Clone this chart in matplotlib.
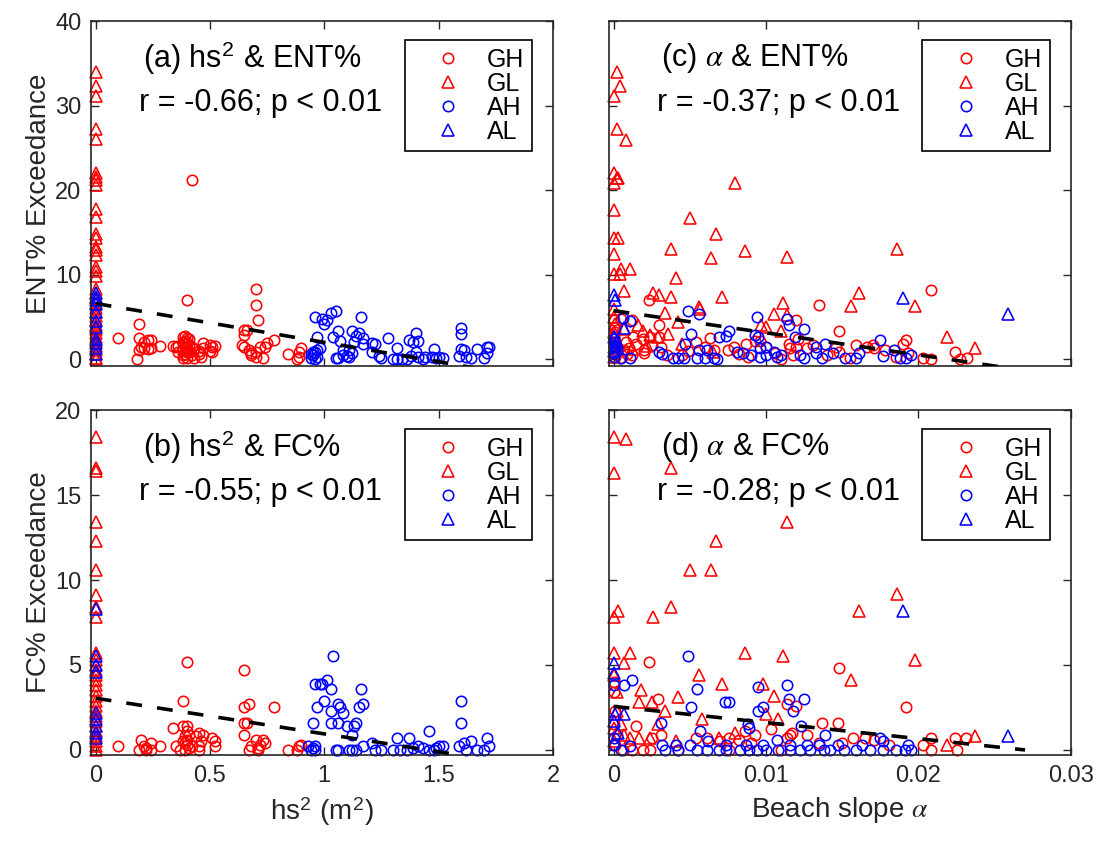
#!/usr/bin/env python3
"""Exceedance vs. wave height squared and beach slope, four-panel scatter."""

import matplotlib

matplotlib.use("Agg")

import matplotlib.pyplot as plt
import numpy as np
from matplotlib.ticker import FormatStrFormatter

plt.rcParams["font.family"] = ["Liberation Sans", "DejaVu Sans"]
plt.rcParams["mathtext.fontset"] = "stix"

GROUPS = ["GH", "GL", "AH", "AL"]
GROUP_MARKERS = {"GH": "o", "GL": "^", "AH": "o", "AL": "^"}
GROUP_SIZES = {"GH": 7.5, "GL": 8.8, "AH": 7.5, "AL": 8.8}
GROUP_COLORS = {"GH": "#ff0000", "GL": "#ff0000", "AH": "#0000ff", "AL": "#0000ff"}
FRAME = "#262626"

# ---- panel (a): hs^2 vs ENT% ----
A_GH = [
    (0.10, 2.5), (0.19, 4.2), (0.19, 2.5), (0.19, 1.1), (0.18, 0.0), (0.20, 1.5), (0.21, 1.3),
    (0.21, 2.0), (0.23, 2.3), (0.23, 1.2), (0.24, 2.3), (0.24, 1.3), (0.28, 1.6),
    (0.34, 1.6), (0.35, 1.5), (0.36, 1.6), (0.36, 0.8), (0.38, 2.6), (0.38, 2.0), (0.38, 1.2),
    (0.38, 0.5), (0.38, 0.2), (0.39, 2.8), (0.39, 2.2), (0.39, 1.8), (0.39, 1.4), (0.39, 1.0),
    (0.39, 0.6), (0.40, 7.0), (0.40, 2.5), (0.40, 1.9), (0.40, 1.3), (0.40, 0.8), (0.40, 0.1),
    (0.41, 2.4), (0.41, 1.7), (0.41, 0.9), (0.42, 21.2), (0.42, 1.5), (0.42, 0.5), (0.43, 1.2),
    (0.43, 0.2), (0.45, 1.0), (0.45, 0.6), (0.46, 0.3), (0.47, 1.9), (0.47, 1.3), (0.50, 1.7),
    (0.50, 1.0), (0.51, 1.5), (0.51, 0.8), (0.52, 1.6),
    (0.65, 3.5), (0.66, 3.5), (0.65, 2.9), (0.64, 1.7), (0.65, 1.5), (0.67, 1.1), (0.68, 0.7),
    (0.68, 0.5), (0.70, 8.3), (0.70, 6.4), (0.71, 4.7), (0.70, 0.9), (0.70, 0.3), (0.73, 0.2),
    (0.74, 1.5), (0.75, 1.9), (0.72, 1.5), (0.78, 2.3), (0.84, 0.6), (0.88, 0.0), (0.89, 0.3),
    (0.89, 0.9), (0.90, 1.3),
]
A_GL = [
    (0, 34.0), (0, 32.3), (0, 31.2), (0, 27.3), (0, 26.1), (0, 22.0), (0, 21.6), (0, 21.2),
    (0, 20.6), (0, 17.8), (0, 16.8), (0, 14.8), (0, 14.4), (0, 13.3), (0, 12.9), (0, 12.3),
    (0, 10.9), (0, 10.5), (0, 9.9), (0, 8.3), (0, 7.8), (0, 7.2), (0, 6.6), (0, 6.1), (0, 5.6),
    (0, 5.1), (0, 4.6), (0, 4.1), (0, 3.6), (0, 3.1), (0, 2.6), (0, 2.1), (0, 1.6), (0, 1.1),
    (0, 0.6), (0, 0.2), (0, 0.0),
]
A_AH = [
    (0.94, 0.2), (0.95, 0.5), (0.96, 0.8), (0.97, 1.1), (0.96, 0.0), (0.95, 0.9), (0.97, 0.3),
    (0.98, 1.3), (0.94, 0.6), (0.96, 5.0), (0.99, 4.8), (1.00, 4.2), (1.01, 4.6), (1.03, 5.5),
    (1.05, 5.7), (0.97, 2.6), (1.04, 2.6), (1.06, 3.3), (1.07, 2.1), (1.08, 1.1), (1.05, 0.1),
    (1.06, 0.1), (1.08, 0.5), (1.11, 1.1), (1.12, 0.7), (1.13, 2.0), (1.12, 3.3), (1.15, 3.1),
    (1.16, 5.0), (1.14, 2.7), (1.17, 2.5), (1.17, 1.8), (1.10, 0.4), (1.11, 0.3),
    (1.21, 1.9), (1.22, 1.8), (1.21, 0.9), (1.24, 0.4), (1.25, 0.1), (1.28, 2.5), (1.30, 0.0),
    (1.32, 0.0), (1.34, 0.0), (1.36, 0.0), (1.32, 1.3), (1.37, 2.3), (1.38, 0.4), (1.39, 2.0),
    (1.40, 3.1), (1.41, 2.1), (1.40, 0.9), (1.41, 0.3), (1.43, 0.0), (1.44, 0.3), (1.47, 0.3),
    (1.48, 1.2), (1.49, 0.1), (1.50, 0.3), (1.52, 0.2), (1.60, 3.7), (1.60, 3.0), (1.59, 0.4),
    (1.60, 1.2), (1.61, 1.1), (1.62, 0.3), (1.64, 0.2), (1.67, 1.2), (1.70, 0.1), (1.71, 1.4),
    (1.72, 1.4), (1.71, 0.7),
]
A_AL = [
    (0, 7.8), (0, 7.4), (0, 7.0), (0, 6.5), (0, 5.6), (0, 4.5), (0, 3.8), (0, 2.4), (0, 1.9),
    (0, 1.3), (0, 0.6),
]

# ---- panel (b): hs^2 vs FC% ----
B_GH = [
    (0.10, 0.2), (0.20, 0.6), (0.19, 0.0), (0.21, 0.2), (0.22, 0.0), (0.24, 0.4), (0.24, 0.0),
    (0.28, 0.2), (0.22, 0.1), (0.40, 5.2), (0.38, 2.9), (0.34, 1.3), (0.38, 1.4), (0.40, 1.4),
    (0.40, 1.1), (0.39, 0.8), (0.40, 0.6), (0.38, 0.5), (0.40, 0.3), (0.35, 0.2), (0.37, 0.0),
    (0.39, 0.0), (0.42, 0.2), (0.45, 0.0), (0.45, 1.0), (0.44, 0.8), (0.47, 0.9), (0.46, 0.5),
    (0.51, 0.7), (0.52, 0.5), (0.52, 0.2), (0.45, 0.2), (0.41, 0.9), (0.39, 0.4), (0.41, 0.1),
    (0.65, 4.7), (0.67, 2.7), (0.65, 2.5), (0.78, 2.5), (0.65, 1.6), (0.66, 1.6), (0.65, 0.9),
    (0.70, 0.6), (0.73, 0.6), (0.74, 0.4), (0.68, 0.2), (0.71, 0.1), (0.71, 0.0), (0.67, 0.0),
    (0.72, 0.3), (0.84, 0.0), (0.88, 0.0), (0.89, 0.2), (0.90, 0.3),
]
B_GL = [
    (0, 18.4), (0, 16.6), (0, 16.4), (0, 13.4), (0, 12.3), (0, 10.6), (0, 9.1), (0, 8.4),
    (0, 7.8), (0, 5.7), (0, 5.3), (0, 5.0), (0, 4.7), (0, 4.4), (0, 4.1), (0, 3.8), (0, 3.5),
    (0, 3.2), (0, 2.9), (0, 2.6), (0, 2.3), (0, 2.0), (0, 1.7), (0, 1.4), (0, 1.1), (0, 0.8),
    (0, 0.5), (0, 0.2), (0, 0.0),
]
B_AH = [
    (1.04, 5.5), (1.01, 4.1), (0.96, 3.9), (0.98, 3.9), (0.99, 3.9), (1.03, 3.6), (1.16, 3.6),
    (1.00, 2.9), (0.97, 2.5), (1.06, 2.7), (1.07, 2.5), (1.03, 2.3), (1.08, 2.2), (1.17, 2.7),
    (1.15, 2.5), (0.95, 1.6), (1.03, 1.6), (1.06, 1.6), (1.10, 1.4), (1.13, 1.4), (1.14, 1.6),
    (1.12, 0.9), (0.93, 0.2), (0.95, 0.1), (0.96, 0.2), (0.94, 0.0), (0.96, 0.0), (1.05, 0.0),
    (1.06, 0.0), (1.11, 0.0), (1.12, 0.0), (1.14, 0.0), (1.17, 0.2), (1.21, 0.4), (1.22, 0.0),
    (1.25, 0.0), (1.32, 0.7), (1.37, 0.7), (1.30, 0.0), (1.33, 0.0), (1.36, 0.0), (1.39, 0.1),
    (1.41, 0.2), (1.43, 0.1), (1.46, 1.1), (1.49, 0.1), (1.50, 0.2), (1.52, 0.2), (1.46, 0.0),
    (1.48, 0.0), (1.60, 2.9), (1.60, 1.6), (1.59, 0.2), (1.61, 0.4), (1.62, 0.0), (1.64, 0.5),
    (1.67, 0.0), (1.70, 0.0), (1.71, 0.7), (1.72, 0.2),
]
B_AL = [
    (0, 8.3), (0, 5.5), (0, 5.0), (0, 4.6), (0, 2.2), (0, 1.8), (0, 1.4), (0, 1.0), (0, 0.7),
]

# ---- panel (c): beach slope vs ENT% ----
C_GH = [
    (0.0023, 7.0), (0.0030, 4.0), (0.0135, 6.4), (0.0208, 8.2), (0.0148, 3.4), (0.0120, 4.7),
    (0.0013, 2.6), (0.0019, 2.4), (0.0024, 2.6), (0.0025, 1.7), (0.0030, 2.6), (0.0031, 1.5),
    (0.0008, 2.0), (0.0007, 1.1), (0.0010, 1.3), (0.0012, 0.5), (0.0020, 0.7), (0.0020, 1.1),
    (0.0049, 1.0), (0.0054, 2.0), (0.0060, 1.5), (0.0063, 2.5), (0.0066, 1.1), (0.0079, 1.5),
    (0.0075, 1.1), (0.0087, 1.8), (0.0093, 2.1), (0.0096, 2.2), (0.0100, 1.5), (0.0110, 0.0),
    (0.0106, 0.7), (0.0115, 1.8), (0.0116, 1.3), (0.0120, 1.5), (0.0121, 2.4), (0.0118, 0.5),
    (0.0127, 1.3), (0.0131, 1.7), (0.0146, 1.5), (0.0148, 0.9), (0.0159, 1.7), (0.0166, 1.5),
    (0.0171, 1.3), (0.0170, 1.7), (0.0178, 1.1), (0.0190, 1.8), (0.0192, 2.3), (0.0193, 0.7),
    (0.0203, 0.2), (0.0208, 0.0), (0.0224, 0.9), (0.0232, 0.2), (0.0227, 0.0),
    (0.0000, 4.6), (0.0001, 3.8), (0.0001, 3.2), (0.0000, 2.6), (0.0001, 1.9), (0.0002, 1.5),
    (0.0000, 0.9), (0.0001, 0.3), (0.0012, 4.6), (0.0005, 4.8), (0.0004, 0.1), (0.0009, 0.6),
    (0.0015, 1.8), (0.0035, 0.5), (0.0045, 0.5), (0.0082, 0.6), (0.0088, 0.3), (0.0140, 0.5),
    (0.0155, 0.2), (0.0185, 0.3),
]
C_GL = [
    (0.0002, 34.0), (0.0004, 32.3), (0.0000, 31.1), (0.0002, 27.3), (0.0008, 25.9),
    (0.0000, 22.0), (0.0002, 21.5), (0.0003, 21.4), (0.0000, 20.8), (0.0080, 20.9),
    (0.0000, 17.7), (0.0050, 16.7), (0.0000, 14.4), (0.0003, 14.4), (0.0067, 14.8),
    (0.0000, 12.4), (0.0038, 13.0), (0.0086, 12.8), (0.0186, 13.1), (0.0064, 12.0),
    (0.0114, 12.1), (0.0000, 10.1), (0.0004, 10.1), (0.0005, 10.7), (0.0011, 10.7),
    (0.0041, 9.6), (0.0007, 8.1), (0.0026, 7.8), (0.0030, 7.6), (0.0038, 7.4), (0.0071, 7.4),
    (0.0161, 7.8), (0.0111, 6.7), (0.0156, 6.3), (0.0198, 6.3), (0.0056, 6.2), (0.0057, 5.9),
    (0.0034, 5.5), (0.0105, 5.3), (0.0042, 4.4), (0.0097, 4.0), (0.0100, 3.8), (0.0016, 4.0),
    (0.0019, 3.4), (0.0007, 3.6), (0.0036, 3.0), (0.0024, 2.9), (0.0029, 2.6), (0.0219, 2.6),
    (0.0237, 1.3), (0.0114, 5.2), (0.0110, 3.4), (0.0000, 6.0), (0.0000, 5.0), (0.0001, 4.2),
    (0.0000, 3.2), (0.0002, 2.2), (0.0000, 1.5), (0.0001, 0.8), (0.0000, 0.3), (0.0003, 1.8),
    (0.0012, 1.2), (0.0022, 1.6), (0.0045, 1.8), (0.0065, 0.9),
]
C_AH = [
    (0.0049, 5.7), (0.0056, 5.4), (0.0094, 5.0), (0.0114, 4.8), (0.0115, 4.1), (0.0125, 3.6),
    (0.0119, 2.6), (0.0076, 3.3), (0.0074, 2.8), (0.0069, 2.6), (0.0051, 3.0), (0.0093, 2.9),
    (0.0095, 2.6), (0.0175, 2.3), (0.0139, 1.8), (0.0133, 1.5), (0.0006, 4.9), (0.0011, 4.5),
    (0.0047, 1.8), (0.0056, 1.1), (0.0061, 1.1), (0.0030, 0.9), (0.0032, 0.6), (0.0039, 0.2),
    (0.0046, 0.1), (0.0042, 0.1), (0.0055, 0.1), (0.0060, 0.1), (0.0066, 0.2), (0.0068, 0.0),
    (0.0081, 0.8), (0.0085, 0.7), (0.0090, 0.5), (0.0096, 0.3), (0.0100, 0.5), (0.0105, 0.9),
    (0.0107, 0.3), (0.0110, 0.5), (0.0122, 0.5), (0.0125, 0.1), (0.0133, 0.7), (0.0137, 0.1),
    (0.0144, 0.7), (0.0152, 0.1), (0.0159, 0.1), (0.0161, 0.7), (0.0177, 0.4), (0.0184, 1.1),
    (0.0188, 0.1), (0.0192, 0.1), (0.0195, 0.5), (0.0100, 1.5), (0.0096, 1.3),
    (0.0000, 2.4), (0.0000, 1.7), (0.0000, 0.7), (0.0000, 0.3), (0.0005, 0.1), (0.0011, 0.1),
    (0.0000, 1.5), (0.0001, 2.0), (0.0002, 1.0),
]
C_AL = [
    (0.0000, 7.6), (0.0001, 7.0), (0.0007, 3.7), (0.0190, 7.3), (0.0259, 5.4), (0.0000, 2.6),
    (0.0001, 1.6), (0.0000, 1.0), (0.0002, 2.0),
]

# ---- panel (d): beach slope vs FC% ----
D_GH = [
    (0.0023, 5.2), (0.0148, 4.8), (0.0114, 2.7), (0.0120, 2.6), (0.0029, 3.0), (0.0192, 2.5),
    (0.0015, 1.4), (0.0031, 0.9), (0.0025, 0.7), (0.0137, 1.6), (0.0147, 1.6), (0.0127, 0.9),
    (0.0117, 1.0), (0.0116, 0.9), (0.0157, 0.7), (0.0165, 0.7), (0.0171, 0.6), (0.0103, 1.2),
    (0.0086, 1.1), (0.0093, 0.9), (0.0076, 0.7), (0.0082, 0.6), (0.0054, 0.7), (0.0061, 0.7),
    (0.0070, 0.5), (0.0203, 0.3), (0.0208, 0.7), (0.0208, 0.0), (0.0224, 0.7), (0.0225, 0.0),
    (0.0231, 0.7), (0.0181, 0.3), (0.0024, 0.0), (0.0019, 0.0), (0.0012, 0.0), (0.0006, 0.0),
    (0.0042, 0.0), (0.0076, 0.0), (0.0090, 0.4), (0.0110, 0.0), (0.0114, 0.7), (0.0135, 0.4),
    (0.0150, 0.4), (0.0000, 4.0), (0.0000, 3.4), (0.0001, 2.3), (0.0000, 1.5), (0.0002, 0.9),
    (0.0001, 0.3),
]
D_GL = [
    (0.0000, 18.4), (0.0008, 18.3), (0.0000, 16.3), (0.0038, 16.6), (0.0114, 13.4),
    (0.0067, 12.3), (0.0050, 10.6), (0.0064, 10.6), (0.0186, 9.2), (0.0161, 8.2),
    (0.0000, 7.8), (0.0003, 8.2), (0.0026, 7.8), (0.0038, 8.4), (0.0000, 5.7), (0.0011, 5.7),
    (0.0007, 5.1), (0.0086, 5.7), (0.0111, 5.5), (0.0198, 5.3), (0.0156, 4.1), (0.0056, 4.4),
    (0.0071, 3.9), (0.0098, 3.9), (0.0018, 3.5), (0.0017, 2.8), (0.0025, 2.8), (0.0042, 3.1),
    (0.0105, 3.2), (0.0034, 2.3), (0.0058, 1.8), (0.0100, 2.1), (0.0108, 1.8), (0.0069, 0.7),
    (0.0080, 1.0), (0.0041, 0.5), (0.0219, 0.3), (0.0237, 0.8), (0.0000, 4.4), (0.0002, 3.4),
    (0.0002, 2.3), (0.0005, 1.5), (0.0007, 0.9), (0.0011, 0.7), (0.0017, 0.7), (0.0024, 0.7),
    (0.0029, 1.5), (0.0000, 1.3), (0.0000, 0.5),
]
D_AH = [
    (0.0049, 5.5), (0.0012, 4.1), (0.0007, 3.8), (0.0055, 3.6), (0.0114, 3.8), (0.0095, 3.7),
    (0.0125, 3.0), (0.0115, 3.0), (0.0073, 2.8), (0.0076, 2.8), (0.0051, 2.5), (0.0098, 2.5),
    (0.0095, 2.3), (0.0118, 2.3), (0.0031, 1.6), (0.0057, 1.1), (0.0088, 1.5), (0.0089, 1.3),
    (0.0123, 1.4), (0.0139, 0.9), (0.0107, 0.6), (0.0175, 0.7), (0.0177, 0.5), (0.0032, 0.3),
    (0.0041, 0.3), (0.0050, 0.3), (0.0062, 0.5), (0.0074, 0.3), (0.0087, 0.3), (0.0098, 0.3),
    (0.0116, 0.3), (0.0127, 0.3), (0.0135, 0.3), (0.0147, 0.3), (0.0163, 0.3), (0.0193, 0.3),
    (0.0034, 0.0), (0.0042, 0.0), (0.0055, 0.0), (0.0061, 0.0), (0.0069, 0.0), (0.0074, 0.0),
    (0.0083, 0.0), (0.0089, 0.0), (0.0094, 0.0), (0.0100, 0.0), (0.0108, 0.0), (0.0116, 0.0),
    (0.0122, 0.0), (0.0129, 0.0), (0.0138, 0.0), (0.0142, 0.0), (0.0151, 0.0), (0.0159, 0.0),
    (0.0168, 0.0), (0.0177, 0.0), (0.0185, 0.0), (0.0191, 0.0), (0.0195, 0.0),
    (0.0000, 3.8), (0.0000, 0.7), (0.0000, 0.3), (0.0005, 0.0), (0.0011, 0.2),
]
D_AL = [
    (0.0000, 5.1), (0.0000, 4.5), (0.0001, 2.1), (0.0000, 1.7), (0.0003, 1.0), (0.0007, 2.1),
    (0.0190, 8.2), (0.0259, 0.8),
]

# least-squares lines: (intercept, slope, x end)
FIT_A = (6.6, -4.6, 1.72)
FIT_B = (3.04, -2.1, 1.72)
FIT_C = (5.75, -262.0, 0.027)
FIT_D = (2.56, -95.0, 0.027)

TITLES = {
    "a": "(a) hs$^{\\mathregular{2}}$ & ENT%",
    "b": "(b) hs$^{\\mathregular{2}}$ & FC%",
    "c": "(c) $\\alpha$ & ENT%",
    "d": "(d) $\\alpha$ & FC%",
}
STATS = {
    "a": "r = -0.66; p < 0.01",
    "b": "r = -0.55; p < 0.01",
    "c": "r = -0.37; p < 0.01",
    "d": "r = -0.28; p < 0.01",
}
HS2_TICKS = [0, 0.5, 1, 1.5, 2]
SLOPE_TICKS = [0, 0.01, 0.02, 0.03]
ENT_TICKS = [0, 10, 20, 30, 40]
FC_TICKS = [0, 5, 10, 15, 20]


def draw_panel(ax, key, groups, fit, xlim, ylim, xticks, yticks, text_x):
    for name, data in zip(GROUPS, groups):
        xy = np.array(data, dtype=float)
        ax.plot(
            xy[:, 0],
            xy[:, 1],
            linestyle="none",
            marker=GROUP_MARKERS[name],
            markersize=GROUP_SIZES[name],
            markerfacecolor="none",
            markeredgecolor=GROUP_COLORS[name],
            markeredgewidth=1.15,
            label=name,
            clip_on=False,
        )
    intercept, slope, x_end = fit
    fx = np.array([0.0, x_end])
    ax.plot(fx, intercept + slope * fx, color="black", linewidth=2.6, dashes=(4.4, 4.2), zorder=5)

    ax.set_xlim(*xlim)
    ax.set_ylim(*ylim)
    ax.set_xticks(xticks)
    ax.set_yticks(yticks)
    ax.xaxis.set_major_formatter(FormatStrFormatter("%g"))
    ax.yaxis.set_major_formatter(FormatStrFormatter("%g"))
    ax.tick_params(direction="in", top=True, right=True, length=6, width=1.0,
                   labelsize=17, color=FRAME, labelcolor=FRAME, pad=7)
    for spine in ax.spines.values():
        spine.set_color(FRAME)
        spine.set_linewidth(1.2)

    ax.text(text_x, 0.893, TITLES[key], transform=ax.transAxes, fontsize=22, va="center")
    ax.text(text_x - 0.01, 0.762, STATS[key], transform=ax.transAxes, fontsize=22, va="center")
    leg = ax.legend(
        loc="upper right",
        bbox_to_anchor=(0.9545, 0.945),
        borderaxespad=0,
        fontsize=18,
        frameon=True,
        fancybox=False,
        edgecolor="black",
        framealpha=1,
        borderpad=0.3,
        handlelength=2.9,
        handletextpad=0.1,
        labelspacing=0.0,
    )
    leg.get_frame().set_linewidth(1.2)


def main():
    fig = plt.figure(figsize=(11.05, 8.41), dpi=100)
    w, h = 0.418, 0.410
    ax_a = fig.add_axes([0.0824, 0.5648, w, h])
    ax_c = fig.add_axes([0.5511, 0.5648, w, h])
    ax_b = fig.add_axes([0.0824, 0.1023, w, h])
    ax_d = fig.add_axes([0.5511, 0.1023, w, h])

    draw_panel(ax_a, "a", [A_GH, A_GL, A_AH, A_AL], FIT_A, (-0.02, 2), (-0.8, 40),
               HS2_TICKS, ENT_TICKS, 0.113)
    draw_panel(ax_b, "b", [B_GH, B_GL, B_AH, B_AL], FIT_B, (-0.02, 2), (-0.3, 20),
               HS2_TICKS, FC_TICKS, 0.113)
    draw_panel(ax_c, "c", [C_GH, C_GL, C_AH, C_AL], FIT_C, (-0.0003, 0.03), (-0.8, 40),
               SLOPE_TICKS, ENT_TICKS, 0.113)
    draw_panel(ax_d, "d", [D_GH, D_GL, D_AH, D_AL], FIT_D, (-0.0003, 0.03), (-0.3, 20),
               SLOPE_TICKS, FC_TICKS, 0.113)

    for ax in (ax_a, ax_c):
        ax.tick_params(labelbottom=False)
    for ax in (ax_c, ax_d):
        ax.tick_params(labelleft=False)

    ax_a.set_ylabel("ENT% Exceedance", fontsize=20, color=FRAME)
    ax_b.set_ylabel("FC% Exceedance", fontsize=20, color=FRAME)
    ax_b.set_xlabel("hs$^{\\mathregular{2}}$ (m$^{\\mathregular{2}}$)", fontsize=20, color=FRAME)
    ax_d.set_xlabel("Beach slope $\\alpha$", fontsize=20, color=FRAME)
    for ax in (ax_a, ax_b):
        ax.yaxis.set_label_coords(-0.085, 0.5)
    for ax in (ax_b, ax_d):
        ax.xaxis.set_label_coords(0.5, -0.115)

    fig.savefig("out.png", dpi=100)


if __name__ == "__main__":
    main()
